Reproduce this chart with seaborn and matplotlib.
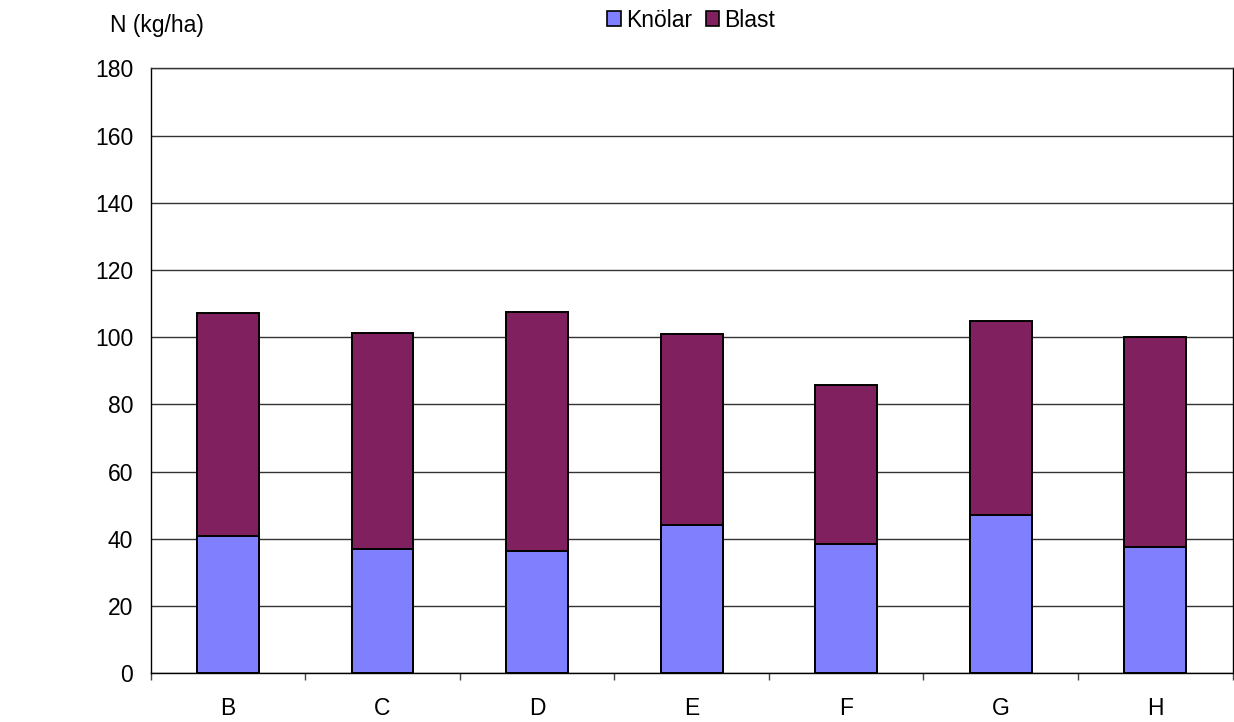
import matplotlib
matplotlib.use("Agg")
import matplotlib.pyplot as plt
from matplotlib.patches import Patch
from matplotlib.ticker import FixedLocator
import numpy as np
import pandas as pd
import seaborn as sns

# Nitrogen uptake per treatment, split into tubers and haulm
treatments = ["B", "C", "D", "E", "F", "G", "H"]
knolar = [40.8, 37.1, 36.4, 44.0, 38.5, 47.0, 37.6]
blast = [66.5, 64.1, 71.0, 57.1, 47.2, 57.8, 62.6]
y_ticks = [0, 20, 40, 60, 80, 100, 120, 140, 160, 180]

knolar_color = "#8080FF"
blast_color = "#80205F"

sns.set_theme(style="white")
plt.rcParams["font.family"] = ["Liberation Sans", "DejaVu Sans"]
plt.rcParams["text.color"] = "black"
plt.rcParams["axes.labelcolor"] = "black"
plt.rcParams["xtick.color"] = "black"
plt.rcParams["ytick.color"] = "black"

df = pd.DataFrame({"Behandling": treatments, "Knölar": knolar, "Blast": blast})
df["Totalt"] = df["Knölar"] + df["Blast"]

fig = plt.figure(figsize=(12.34, 7.22), dpi=100)
ax = fig.add_axes([0.1221, 0.0674, 0.8767, 0.8380])

# stacked columns: full height in the haulm colour, tuber part drawn over it
sns.barplot(data=df, x="Behandling", y="Totalt", color=blast_color, width=0.4,
            edgecolor="black", linewidth=1.4, saturation=1, ax=ax, zorder=3)
sns.barplot(data=df, x="Behandling", y="Knölar", color=knolar_color, width=0.4,
            edgecolor="black", linewidth=1.4, saturation=1, ax=ax, zorder=4)

ax.set_xlim(-0.5, len(treatments) - 0.5)
ax.set_ylim(0, 180)
ax.set_yticks(y_ticks)
ax.set_yticklabels([str(v) for v in y_ticks])
ax.yaxis.grid(True, color="#333333", linewidth=1.0)
ax.xaxis.grid(False)
ax.set_axisbelow(True)

ax.set_xlabel("")
ax.set_ylabel("")

# category labels in the middle, tick marks between categories
ax.xaxis.set_minor_locator(FixedLocator(np.arange(-0.5, len(treatments), 1.0)))
ax.tick_params(axis="x", which="major", length=0, pad=17, labelsize=16.5, labelcolor="black")
ax.tick_params(axis="x", which="minor", length=5, width=1.0, color="#444444", direction="out")
ax.tick_params(axis="y", which="major", length=5, width=1.0, color="#444444",
               direction="out", pad=7.5, labelsize=16.5, labelcolor="black")
ax.tick_params(bottom=True, which="minor")

for side in ["left", "bottom", "top", "right"]:
    ax.spines[side].set_visible(True)
    ax.spines[side].set_color("black")
    ax.spines[side].set_linewidth(1.0)
ax.spines["top"].set_color("#333333")

fig.text(0.0891, 0.964, "N (kg/ha)", fontsize=16.5, ha="left", va="center", color="black")

handles = [Patch(facecolor=knolar_color, edgecolor="black", linewidth=1.2, label="Knölar"),
           Patch(facecolor=blast_color, edgecolor="black", linewidth=1.2, label="Blast")]
leg = fig.legend(handles=handles, loc="center", bbox_to_anchor=(0.56, 0.972), ncol=2,
                 frameon=False, fontsize=16.5, handlelength=0.6, handleheight=0.6,
                 handletextpad=0.2, columnspacing=0.6, borderpad=0)
for t in leg.get_texts():
    t.set_color("black")

fig.savefig("out.png", dpi=100)
